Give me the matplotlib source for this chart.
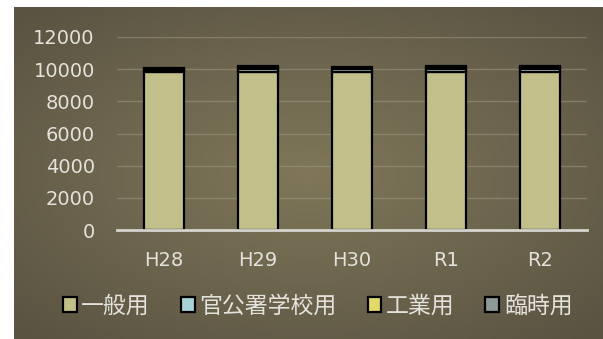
import numpy as np
import matplotlib
matplotlib.use("Agg")
import matplotlib.pyplot as plt
from matplotlib.patches import Patch

plt.rcParams['font.family'] = ['DejaVu Sans', 'Noto Sans CJK JP']

# --- data ---
years = ["H28", "H29", "H30", "R1", "R2"]
general = [9800, 9830, 9820, 9850, 9850]        # 一般用
public_school = [150, 190, 190, 180, 180]        # 官公署学校用
industrial = [30, 30, 30, 30, 30]                # 工業用
temporary = [120, 120, 110, 120, 120]            # 臨時用
series_names = ["一般用", "官公署学校用", "工業用", "臨時用"]
series_colors = ["#c3bf8b", "#a9d3d6", "#e2d96a", "#8e9a96"]
yticks = [0, 2000, 4000, 6000, 8000, 10000, 12000]

W, H = 603, 339
fig = plt.figure(figsize=(W / 100, H / 100), dpi=100)
fig.patch.set_facecolor("white")

# radial gradient backdrop
bg = fig.add_axes([14 / W, 0, 1 - 14 / W, 1 - 7 / H])
bg.set_axis_off()
nx, ny = 300, 170
xx, yy = np.meshgrid(np.linspace(-1, 1, nx), np.linspace(-1, 1, ny))
r = np.clip(np.sqrt((xx * 0.95) ** 2 + (yy * 1.0) ** 2) / 1.35, 0, 1)
c_in = np.array([0x80, 0x77, 0x59]) / 255
c_out = np.array([0x5a, 0x53, 0x42]) / 255
img = c_in[None, None, :] * (1 - r[..., None]) + c_out[None, None, :] * r[..., None]
bg.imshow(img, aspect="auto", extent=[0, 1, 0, 1], interpolation="bilinear")
bg.set_xlim(0, 1)
bg.set_ylim(0, 1)

ax = fig.add_axes([117 / W, 1 - 230 / H, (587 - 117) / W, (230 - 37) / H])
ax.set_facecolor("none")

x = np.arange(len(years))
width = 0.43
bottom = np.zeros(len(years))
for vals, name, col in zip([general, public_school, industrial, temporary],
                           series_names, series_colors):
    ax.bar(x, vals, width, bottom=bottom, color=col, edgecolor="black",
           linewidth=1.6, label=name, zorder=3)
    bottom += np.array(vals)

ax.set_xlim(-0.5, len(years) - 0.5)
ax.set_ylim(0, 12000)
ax.set_yticks(yticks)
ax.set_yticklabels([str(v) for v in yticks])
ax.set_xticks(x)
ax.set_xticklabels(years)
ax.tick_params(axis="both", length=0, colors="#e4e2dc", labelsize=14)
ax.tick_params(axis="y", pad=16)
ax.tick_params(axis="x", pad=15)
ax.grid(axis="y", color="#9a927c", linewidth=1, alpha=0.6, zorder=0)
for s in ["top", "right", "left"]:
    ax.spines[s].set_visible(False)
ax.spines["bottom"].set_color("#d6d4ce")
ax.spines["bottom"].set_linewidth(2)
ax.spines["bottom"].set_zorder(4)

handles = [Patch(facecolor=c, edgecolor="black", linewidth=1.6) for c in series_colors]
leg = fig.legend(handles, series_names, loc="center", ncol=4,
                 bbox_to_anchor=(0.527, 1 - 306 / H), frameon=False,
                 handlelength=0.6, handleheight=0.6, handletextpad=0.2,
                 columnspacing=1.35,
                 prop={"family": ["Noto Sans CJK JP", "DejaVu Sans"], "size": 16.5})
for t in leg.get_texts():
    t.set_color("#e4e2dc")

fig.savefig("out.png", dpi=100)
